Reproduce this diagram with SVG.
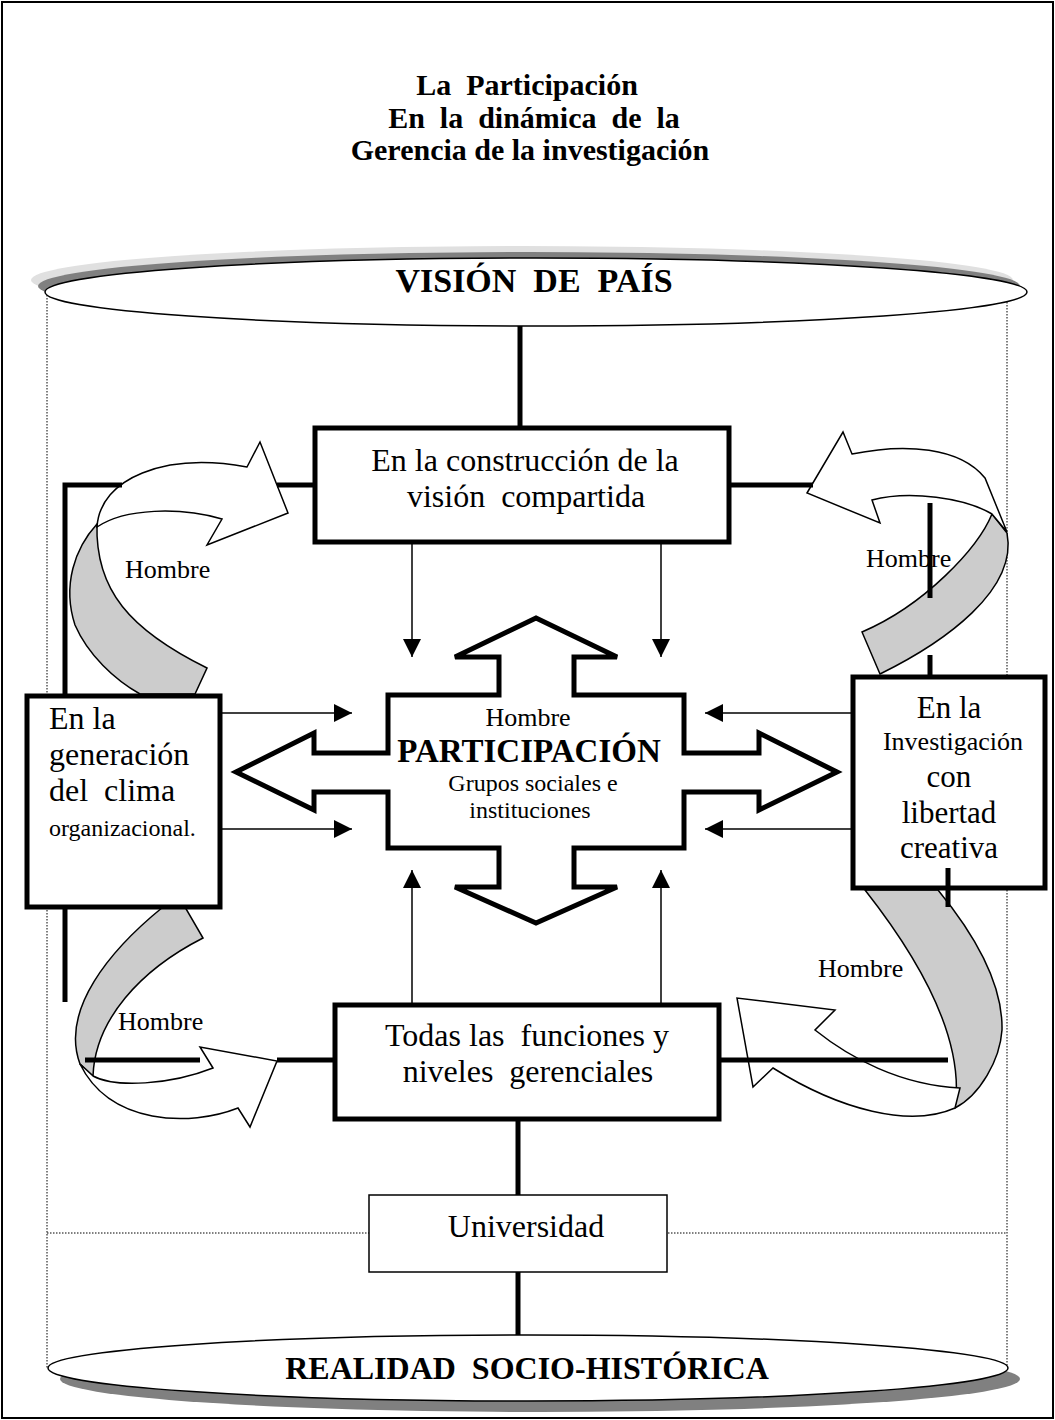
<svg xmlns="http://www.w3.org/2000/svg" width="1055" height="1420" viewBox="0 0 1055 1420">
  <defs>
    <style>
      .t{font-family:"Liberation Serif","Times New Roman",serif;fill:#000}
      .b{font-weight:bold}
      .box{fill:#fff;stroke:#000;stroke-width:5}
      .lbox{fill:#fff;stroke:#000;stroke-width:1.5}
      .bar{fill:none;stroke:#000;stroke-width:5}
      .lnk{fill:none;stroke:#000;stroke-width:1.5}
      .dot{fill:none;stroke:#000;stroke-width:1;stroke-dasharray:1.5 1.5}
      .band{fill:#cccccc;stroke:#000;stroke-width:1.5}
      .ribbon{fill:#fff;stroke:#000;stroke-width:1.5}
      .oval{fill:#fff;stroke:#000;stroke-width:1.5}
    </style>
    <marker id="tip" viewBox="0 0 10 10" refX="10" refY="5" markerUnits="userSpaceOnUse" markerWidth="18" markerHeight="18" orient="auto">
      <path d="M0,0 L10,5 L0,10 Z" fill="#000"/>
    </marker>
  </defs>

  <!-- page frame -->
  <rect x="2" y="2" width="1051" height="1416" fill="#fff" stroke="#000" stroke-width="2"/>

  <!-- title -->
  <g id="title" class="t b" font-size="30" text-anchor="middle">
    <text x="527" y="95" xml:space="preserve">La  Participación</text>
    <text x="534" y="128" xml:space="preserve">En  la  dinámica  de  la</text>
    <text x="530" y="160">Gerencia de la investigación</text>
  </g>

  <!-- dotted cylinder outline -->
  <g id="guides">
    <path class="dot" d="M47,292 V1368"/>
    <path class="dot" d="M1007,296 V1368"/>
    <path class="dot" d="M47,1233 H1007"/>
  </g>

  <!-- top ellipse -->
  <g id="vision-pais">
    <ellipse cx="522" cy="280" rx="491" ry="34" fill="#e0e0e0"/>
    <ellipse cx="529" cy="286" rx="491" ry="34" fill="#808080"/>
    <ellipse class="oval" cx="536" cy="292" rx="491" ry="34"/>
    <text class="t b" x="534" y="292" font-size="34" text-anchor="middle" xml:space="preserve">VISIÓN  DE  PAÍS</text>
  </g>

  <!-- bottom ellipse -->
  <g id="realidad">
    <ellipse cx="540" cy="1379" rx="480" ry="33" fill="#808080"/>
    <ellipse class="oval" cx="528" cy="1368" rx="480" ry="33"/>
    <text class="t b" x="527" y="1379" font-size="32" text-anchor="middle" xml:space="preserve">REALIDAD  SOCIO-HISTÓRICA</text>
  </g>

  <!-- twisted ribbons linking the side boxes -->
  <g id="cycle-top-left">
    <path class="band" d="M97,524 C75,548 62,585 75,625 C88,655 115,680 140,694 L195,694 L207,668 C130,630 95,590 97,524 Z"/>
    <path class="ribbon" d="M97,527 C100,478 165,452 247,467 L260,442 L288,513 L207,545 L222,519 C180,507 125,508 97,527 Z"/>
    <text class="t" x="125" y="578" font-size="26">Hombre</text>
  </g>
  <g id="cycle-top-right">
    <text class="t" x="866" y="567" font-size="26">Hombre</text>
    <path class="band" d="M992,514 C978,548 925,605 862,632 L880,674 C945,642 1018,590 1007,533 Z"/>
    <path class="ribbon" d="M807,493 L843,432 L852,454 C905,443 960,447 985,478 L1007,532 L992,514 C965,498 910,490 872,500 L880,523 Z"/>
  </g>
  <g id="cycle-bottom-left">
    <path class="band" d="M163,907 C110,950 60,1010 80,1064 L93,1076 C95,1020 140,970 203,938 L185,907 Z"/>
    <path class="ribbon" d="M93,1076 C115,1088 170,1085 213,1068 L200,1047 L277,1061 L250,1127 L238,1108 C190,1127 110,1125 80,1064 Z"/>
    <text class="t" x="118" y="1030" font-size="26">Hombre</text>
  </g>
  <g id="cycle-bottom-right">
    <path class="band" d="M865,890 C920,960 965,1040 955,1108 C980,1095 1000,1060 1002,1030 C1003,985 975,935 938,890 Z"/>
    <path class="ribbon" d="M955,1108 C910,1128 840,1110 773,1068 L753,1087 L737,998 L835,1010 L815,1030 C850,1058 900,1085 960,1088 Z"/>
    <text class="t" x="818" y="977" font-size="26">Hombre</text>
  </g>

  <!-- nodes -->
  <g id="construccion">
    <rect class="box" x="315" y="428" width="414" height="114"/>
    <text class="t" font-size="32" text-anchor="middle" xml:space="preserve"><tspan x="525" y="471">En la construcción de la</tspan><tspan x="526" y="507">visión  compartida</tspan></text>
  </g>
  <g id="clima">
    <rect class="box" x="27" y="696" width="193" height="211"/>
    <text class="t" font-size="32" xml:space="preserve"><tspan x="49" y="729">En la</tspan><tspan x="49" y="765">generación</tspan><tspan x="49" y="801">del  clima</tspan><tspan x="49" y="836" font-size="24">organizacional.</tspan></text>
  </g>
  <g id="investigacion">
    <rect class="box" x="853" y="677" width="192" height="211"/>
    <text class="t" font-size="31" text-anchor="middle"><tspan x="949" y="718">En la</tspan><tspan x="953" y="750" font-size="26">Investigación</tspan><tspan x="949" y="787">con</tspan><tspan x="949" y="823">libertad</tspan><tspan x="949" y="858">creativa</tspan></text>
  </g>
  <g id="funciones">
    <rect class="box" x="335" y="1005" width="384" height="114"/>
    <text class="t" font-size="32" text-anchor="middle" xml:space="preserve"><tspan x="527" y="1046">Todas las  funciones y</tspan><tspan x="528" y="1082">niveles  gerenciales</tspan></text>
  </g>
  <g id="universidad">
    <rect class="lbox" x="369" y="1195" width="298" height="77"/>
    <text class="t" x="526" y="1237" font-size="32" text-anchor="middle">Universidad</text>
  </g>
  <g id="participacion">
    <path fill="#fff" stroke="#000" stroke-width="5" stroke-linejoin="miter" d="M536,618 L617,657 L574,657 L574,695 L684,695 L684,753 L759,753 L759,733 L837,772 L759,810 L759,792 L684,792 L684,848 L574,848 L574,887 L617,887 L536,923 L455,887 L499,887 L499,848 L388,848 L388,792 L314,792 L314,810 L236,772 L314,733 L314,753 L388,753 L388,695 L499,695 L499,657 L455,657 Z"/>
    <text class="t" x="528" y="726" font-size="26" text-anchor="middle">Hombre</text>
    <text class="t b" x="529" y="762" font-size="33" text-anchor="middle">PARTICIPACIÓN</text>
    <text class="t" x="533" y="791" font-size="24" text-anchor="middle">Grupos sociales e</text>
    <text class="t" x="530" y="818" font-size="24" text-anchor="middle">instituciones</text>
  </g>

  <!-- connectors -->
  <g id="connectors">
    <path class="bar" d="M520,326 V428"/>
    <path class="bar" d="M518,1119 V1195"/>
    <path class="bar" d="M518,1272 V1335"/>
    <path class="bar" d="M65,695 V485 H122"/>
    <path class="bar" d="M277,485 H315"/>
    <path class="bar" d="M729,485 H813"/>
    <path class="bar" d="M930,503 V598"/>
    <path class="bar" d="M930,655 V677"/>
    <path class="bar" d="M65,907 V1002"/>
    <path class="bar" d="M85,1060 H200"/>
    <path class="bar" d="M277,1060 H335"/>
    <path class="bar" d="M719,1060 H948"/>
    <path class="bar" d="M948,868 V907"/>
    <path class="lnk" marker-end="url(#tip)" d="M220,713 H352"/>
    <path class="lnk" marker-end="url(#tip)" d="M220,829 H352"/>
    <path class="lnk" marker-end="url(#tip)" d="M853,713 H705"/>
    <path class="lnk" marker-end="url(#tip)" d="M853,829 H705"/>
    <path class="lnk" marker-end="url(#tip)" d="M412,542 V657"/>
    <path class="lnk" marker-end="url(#tip)" d="M661,542 V657"/>
    <path class="lnk" marker-end="url(#tip)" d="M412,1005 V870"/>
    <path class="lnk" marker-end="url(#tip)" d="M661,1005 V870"/>
  </g>
</svg>
